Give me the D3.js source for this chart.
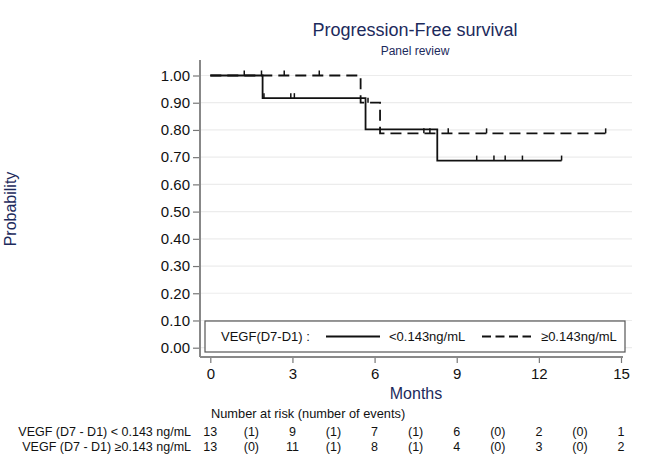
<!DOCTYPE html>
<html>
<head>
<meta charset="utf-8">
<script src="https://cdn.jsdelivr.net/npm/d3@7"></script>
<style>
  body { margin: 0; background: #fff; }
  svg { font-family: "Liberation Sans", Arial, sans-serif; }
</style>
</head>
<body>
<div id="chart"></div>
<script>
// Kaplan-Meier steps
let lowTimes = [0, 1.91, 5.67, 8.29, 12.83];
let lowSurv = [1.0, 0.9167, 0.802, 0.6875, 0.6875];
let lowCensor = [1.24, 1.96, 2.94, 3.07, 9.73, 10.36, 10.77, 11.40, 12.83];

let highTimes = [0, 5.49, 6.20, 14.44];
let highSurv = [1.0, 0.9, 0.7875, 0.7875];
let highCensor = [1.87, 2.70, 3.98, 5.76, 7.80, 8.02, 8.69, 10.09, 14.44];

// risk table
let riskMonths = [0, 3, 6, 9, 12, 15];
let lowAtRisk = [13, 9, 7, 6, 2, 1];
let lowEvents = [1, 1, 1, 0, 0];
let highAtRisk = [13, 11, 8, 4, 3, 2];
let highEvents = [0, 1, 1, 0, 0];

let xTicks = [0, 3, 6, 9, 12, 15];
let yTicks = [0, 0.1, 0.2, 0.3, 0.4, 0.5, 0.6, 0.7, 0.8, 0.9, 1.0];

let navy = "#1c2a5c";
let width = 650, height = 462;

let svg = d3.select("#chart")
    .append("svg")
    .attr("width", width)
    .attr("height", height);

svg.append("rect").attr("width", width).attr("height", height).attr("fill", "#fff");

let x = d3.scaleLinear().domain([0, 15]).range([210.3, 621]);
let y = d3.scaleLinear().domain([0, 1]).range([347.7, 75.5]);

let axisX = 200, axisY = 357;

// gridlines
svg.append("g")
    .selectAll("line")
    .data(yTicks)
    .join("line")
    .attr("x1", axisX)
    .attr("x2", 632)
    .attr("y1", d => y(d))
    .attr("y2", d => y(d))
    .attr("stroke", "#ececec")
    .attr("stroke-width", 1.2);

// y axis
let yAxis = svg.append("g")
    .attr("transform", `translate(${axisX},0)`)
    .call(d3.axisLeft(y).tickValues(yTicks).tickFormat(d3.format(".2f")).tickSize(7).tickPadding(3));
yAxis.select(".domain").remove();
yAxis.selectAll(".tick line").attr("stroke", "#777").attr("stroke-width", 1.2);
yAxis.selectAll(".tick text").attr("font-size", "15px").attr("fill", "#111")
    .attr("font-family", "Liberation Sans, Arial, sans-serif");

svg.append("line")
    .attr("x1", axisX).attr("x2", axisX)
    .attr("y1", 60).attr("y2", axisY)
    .attr("stroke", "#888").attr("stroke-width", 2);

// x axis
let xAxis = svg.append("g")
    .attr("transform", `translate(0,${axisY})`)
    .call(d3.axisBottom(x).tickValues(xTicks).tickSize(6).tickPadding(5));
xAxis.select(".domain").remove();
xAxis.selectAll(".tick line").attr("stroke", "#777").attr("stroke-width", 1.2);
xAxis.selectAll(".tick text").attr("font-size", "15px").attr("fill", "#111")
    .attr("font-family", "Liberation Sans, Arial, sans-serif");

svg.append("line")
    .attr("x1", axisX).attr("x2", 623)
    .attr("y1", axisY).attr("y2", axisY)
    .attr("stroke", "#888").attr("stroke-width", 2);

// step curves
function stepValue(times, surv, t) {
    let v = surv[0];
    for (let i = 0; i < times.length; i++) {
        if (times[i] <= t) v = surv[i];
    }
    return v;
}

let line = d3.line()
    .x(d => x(d[0]))
    .y(d => y(d[1]))
    .curve(d3.curveStepAfter);

function drawCurve(times, surv, censor, dash) {
    let pts = times.map((t, i) => [t, surv[i]]);
    svg.append("path")
        .datum(pts)
        .attr("d", line)
        .attr("fill", "none")
        .attr("stroke", "#111")
        .attr("stroke-width", 1.8)
        .attr("stroke-dasharray", dash);

    svg.append("g")
        .selectAll("line")
        .data(censor)
        .join("line")
        .attr("x1", d => x(d))
        .attr("x2", d => x(d))
        .attr("y1", d => y(stepValue(times, surv, d)))
        .attr("y2", d => y(stepValue(times, surv, d)) - 5)
        .attr("stroke", "#111")
        .attr("stroke-width", 1.5);
}

drawCurve(lowTimes, lowSurv, lowCensor, null);
drawCurve(highTimes, highSurv, highCensor, "11,6");

// legend
let legend = svg.append("g");
legend.append("rect")
    .attr("x", 205).attr("y", 321)
    .attr("width", 420).attr("height", 31)
    .attr("fill", "#fff")
    .attr("stroke", "#555")
    .attr("stroke-width", 1.2);
legend.append("text")
    .attr("x", 221).attr("y", 341)
    .attr("font-size", "13px").attr("fill", "#111")
    .text("VEGF(D7-D1) :");
legend.append("line")
    .attr("x1", 326).attr("x2", 380).attr("y1", 336.5).attr("y2", 336.5)
    .attr("stroke", "#111").attr("stroke-width", 1.8);
legend.append("text")
    .attr("x", 389).attr("y", 341)
    .attr("font-size", "13px").attr("fill", "#111")
    .text("<0.143ng/mL");
legend.append("line")
    .attr("x1", 482).attr("x2", 531).attr("y1", 336.5).attr("y2", 336.5)
    .attr("stroke", "#111").attr("stroke-width", 1.8)
    .attr("stroke-dasharray", "9,4.5");
legend.append("text")
    .attr("x", 541).attr("y", 341)
    .attr("font-size", "13px").attr("fill", "#111")
    .text("\u22650.143ng/mL");

// titles
svg.append("text")
    .attr("x", 415).attr("y", 36)
    .attr("text-anchor", "middle")
    .attr("font-size", "18px").attr("fill", navy)
    .text("Progression-Free survival");
svg.append("text")
    .attr("x", 415).attr("y", 55)
    .attr("text-anchor", "middle")
    .attr("font-size", "12px").attr("fill", navy)
    .text("Panel review");

svg.append("text")
    .attr("transform", "translate(16,209) rotate(-90)")
    .attr("text-anchor", "middle")
    .attr("font-size", "16px").attr("fill", navy)
    .text("Probability");

svg.append("text")
    .attr("x", 416).attr("y", 399)
    .attr("text-anchor", "middle")
    .attr("font-size", "16px").attr("fill", navy)
    .text("Months");

// number at risk table
svg.append("text")
    .attr("x", 211).attr("y", 418)
    .attr("font-size", "12.8px").attr("fill", "#111")
    .text("Number at risk (number of events)");

function riskRow(label, atRisk, events, yPos) {
    let g = svg.append("g").attr("font-size", "12.5px").attr("fill", "#111");
    g.append("text")
        .attr("x", 191).attr("y", yPos)
        .attr("text-anchor", "end")
        .text(label);
    g.selectAll("text.n")
        .data(atRisk)
        .join("text")
        .attr("class", "n")
        .attr("x", (d, i) => x(riskMonths[i]))
        .attr("y", yPos)
        .attr("text-anchor", "middle")
        .text(d => d);
    g.selectAll("text.e")
        .data(events)
        .join("text")
        .attr("class", "e")
        .attr("x", (d, i) => x((riskMonths[i] + riskMonths[i + 1]) / 2))
        .attr("y", yPos)
        .attr("text-anchor", "middle")
        .text(d => `(${d})`);
}

riskRow("VEGF (D7 - D1) < 0.143 ng/mL", lowAtRisk, lowEvents, 436);
riskRow("VEGF (D7 - D1) \u22650.143 ng/mL", highAtRisk, highEvents, 450.5);
</script>
</body>
</html>
